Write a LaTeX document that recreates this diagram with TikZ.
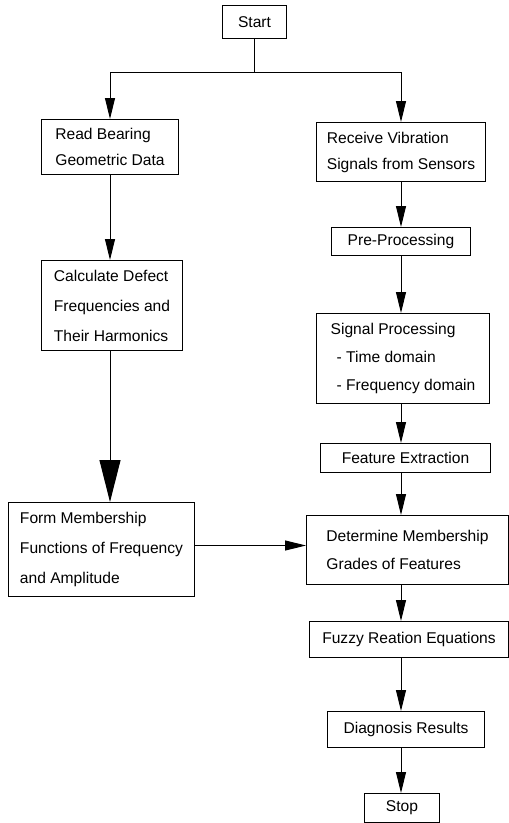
\documentclass[tikz,border=0pt]{standalone}
\usepackage{fontspec}
\setmainfont{Liberation Sans}
\usetikzlibrary{arrows.meta,positioning}
\tikzset{
  every picture/.style={
    line width=1pt
  },
  process/.style={draw, align=left, inner sep=0pt, anchor=north west,
    font=\fontsize{15.6}{28}\selectfont},
  flow/.style={-{Triangle[length=21pt,width=10pt]}},
  bigflow/.style={-{Triangle[length=42pt,width=21pt]}}
}

\begin{document}
\begin{tikzpicture}[x=1pt, y=-1pt]
  \useasboundingbox (0,0) rectangle (509,823);

  \node[process, minimum width=64pt, minimum height=33pt] (start) at (222,5) {Start};
  \node[process, minimum width=137pt, minimum height=55pt, font=\fontsize{15.6}{26}\selectfont] (read) at (41,119) {Read Bearing\\Geometric Data};
  \node[process, minimum width=169pt, minimum height=59pt, font=\fontsize{15.6}{26}\selectfont] (recv) at (316,122) {Receive Vibration\\Signals from Sensors};
  \node[process, minimum width=139pt, minimum height=28pt] (pre) at (331,227) {Pre-Processing};
  \node[process, minimum width=141pt, minimum height=90pt, font=\fontsize{15.6}{30}\selectfont] (calc) at (41,260) {Calculate Defect\\Frequencies and\\Their Harmonics};
  \node[process, minimum width=173pt, minimum height=90pt] (sig) at (316,313) {Signal Processing\\\hspace{6pt}- Time domain\\\hspace{6pt}- Frequency domain};
  \node[process, minimum width=170pt, minimum height=29pt] (feat) at (320,443) {Feature Extraction};
  \node[process, minimum width=186pt, minimum height=94pt, font=\fontsize{15.6}{30}\selectfont] (form) at (8,502) {Form Membership\\Functions of Frequency\\and Amplitude};
  \node[process, minimum width=202pt, minimum height=69pt] (det) at (306,515) {Determine Membership\\Grades of Features};
  \node[process, minimum width=199pt, minimum height=36pt] (fuzzy) at (309,621) {Fuzzy Reation Equations};
  \node[process, minimum width=157pt, minimum height=36pt] (diag) at (327,711) {Diagnosis Results};
  \node[process, minimum width=75pt, minimum height=29pt] (stop) at (364,793) {Stop};

  % split after start
  \draw (start.south) -- ++(0,33) coordinate (split);
  \draw[flow] (split) -| (read);
  \draw[flow] (split) -| (recv);

  % left branch
  \draw[flow] (read.south) -- (read.south |- calc.north);
  \draw[bigflow] (read.south |- calc.south) -- (read.south |- form.north);
  \draw[flow] ([yshift=4pt]form.east) -- ([yshift=4pt]form.east -| det.west);

  % right branch
  \draw[flow] (pre.north |- recv.south) -- (pre.north);
  \draw[flow] (pre.south) -- (pre.south |- sig.north);
  \draw[flow] (pre.south |- sig.south) -- (pre.south |- feat.north);
  \draw[flow] (pre.south |- feat.south) -- (pre.south |- det.north);
  \draw[flow] (pre.south |- det.south) -- (pre.south |- fuzzy.north);
  \draw[flow] (pre.south |- fuzzy.south) -- (pre.south |- diag.north);
  \draw[flow] (pre.south |- diag.south) -- (pre.south |- stop.north);
\end{tikzpicture}
\end{document}
